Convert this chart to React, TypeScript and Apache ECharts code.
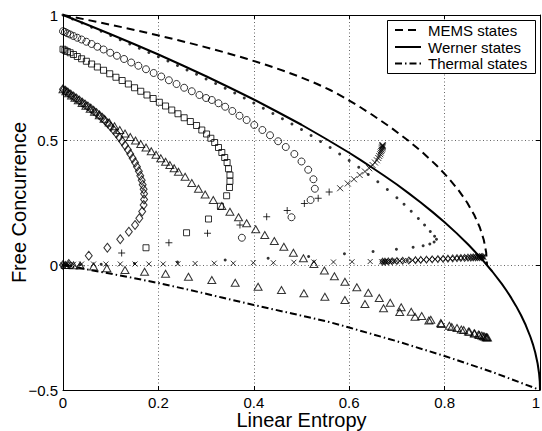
import React, { useEffect, useRef } from "react";
import * as echarts from "echarts";

const FONT = "'Liberation Sans', Arial, Helvetica, sans-serif";

const xTickValues = [0, 0.2, 0.4, 0.6, 0.8, 1];
const yTickValues = [-0.5, 0, 0.5, 1];
const yTickLabels = ["\u22120.5", "0", "0.5", "1"];

const legendNames = ["MEMS states", "Werner states", "Thermal states"];

const memsCurve: number[][] = [
  [0, 1], [0.0264, 0.99], [0.0523, 0.98], [0.0776, 0.97], [0.1267, 0.95], [0.1736, 0.93],
  [0.24, 0.9], [0.2917, 0.875], [0.34, 0.85], [0.385, 0.825], [0.4267, 0.8], [0.465, 0.775],
  [0.5, 0.75], [0.5317, 0.725], [0.56, 0.7], [0.5926, 0.6667], [0.6243, 0.63], [0.6489, 0.6],
  [0.6872, 0.55], [0.7222, 0.5], [0.7539, 0.45], [0.7822, 0.4], [0.8072, 0.35], [0.8289, 0.3],
  [0.8472, 0.25], [0.8622, 0.2], [0.8739, 0.15], [0.8822, 0.1], [0.8872, 0.05], [0.8889, 0],
];

const wernerCurve: number[][] = [
  [0, 1], [0.05, 0.962], [0.1, 0.923], [0.15, 0.883], [0.2, 0.842], [0.25, 0.799], [0.3, 0.755],
  [0.35, 0.709], [0.4, 0.662], [0.45, 0.612], [0.5, 0.561], [0.55, 0.506], [0.6, 0.449],
  [0.625, 0.4186], [0.65, 0.387], [0.675, 0.3551], [0.7, 0.322], [0.725, 0.2866], [0.75, 0.25],
  [0.775, 0.2115], [0.8, 0.171], [0.825, 0.1275], [0.85, 0.081], [0.875, 0.0303], [0.9, -0.026],
  [0.92, -0.0757], [0.93, -0.103], [0.94, -0.1326], [0.95, -0.1646], [0.96, -0.2], [0.97, -0.2402],
  [0.98, -0.288], [0.985, -0.3163], [0.99, -0.35], [0.995, -0.394], [0.998, -0.433], [0.9995, -0.466], [1, -0.5],
];

const thermalCurve: number[][] = [
  [0, 0], [0.078, -0.027], [0.134, -0.047], [0.2, -0.072], [0.266, -0.1], [0.333, -0.13], [0.4, -0.16],
  [0.48, -0.194], [0.56, -0.229], [0.6, -0.25], [0.7, -0.305], [0.8, -0.364], [0.9, -0.428], [1, -0.5],
];

const dotsData: number[][] = [
  [0, 1], [0.02, 0.984], [0.04, 0.968], [0.06, 0.951], [0.08, 0.935], [0.1, 0.918], [0.12, 0.901],
  [0.14, 0.884], [0.16, 0.867], [0.18, 0.85], [0.2, 0.833], [0.22, 0.816], [0.24, 0.798], [0.26, 0.78],
  [0.28, 0.763], [0.3, 0.744], [0.32, 0.726], [0.34, 0.707], [0.36, 0.688], [0.38, 0.668], [0.4, 0.648],
  [0.42, 0.627], [0.44, 0.606], [0.46, 0.585], [0.48, 0.564], [0.5, 0.542], [0.52, 0.518], [0.54, 0.494],
  [0.56, 0.47], [0.58, 0.444], [0.6, 0.418], [0.62, 0.391], [0.64, 0.362], [0.66, 0.333], [0.68, 0.302],
  [0.7, 0.269], [0.715, 0.243], [0.73, 0.215], [0.745, 0.186], [0.758, 0.16], [0.77, 0.134], [0.779, 0.115],
  [0.783, 0.103], [0.778, 0.092], [0.769, 0.084], [0.755, 0.077], [0.734, 0.071], [0.699, 0.063],
  [0.65, 0.054], [0.59, 0.045], [0.515, 0.034], [0.43, 0.027], [0.34, 0.02], [0.24, 0.012], [0.15, 0.006],
  [0.08, 0.003], [0.035, 0.001], [0.01, 0], [0, 0],
];

const circlesData: number[][] = [
  [0, 0.935], [0.004, 0.932], [0.009, 0.927], [0.015, 0.922], [0.022, 0.916], [0.03, 0.909], [0.039, 0.902],
  [0.049, 0.893], [0.06, 0.884], [0.072, 0.873], [0.085, 0.862], [0.099, 0.849], [0.113, 0.837], [0.128, 0.824],
  [0.143, 0.81], [0.158, 0.797], [0.174, 0.783], [0.19, 0.768], [0.206, 0.754], [0.222, 0.739], [0.238, 0.724],
  [0.254, 0.709], [0.27, 0.695], [0.286, 0.68], [0.3, 0.668], [0.312, 0.66], [0.326, 0.647], [0.34, 0.633],
  [0.355, 0.616], [0.37, 0.597], [0.385, 0.58], [0.401, 0.56], [0.418, 0.54], [0.434, 0.519], [0.451, 0.495],
  [0.467, 0.472], [0.485, 0.444], [0.5, 0.414], [0.514, 0.381], [0.525, 0.343], [0.528, 0.305], [0.519, 0.26],
  [0.479, 0.191], [0.375, 0.109],
];

const squaresData: number[][] = [
  [0, 0.863], [0.004, 0.859], [0.009, 0.854], [0.015, 0.849], [0.022, 0.842], [0.03, 0.834], [0.039, 0.825],
  [0.049, 0.815], [0.06, 0.804], [0.072, 0.792], [0.085, 0.779], [0.098, 0.765], [0.111, 0.751], [0.124, 0.738],
  [0.137, 0.724], [0.15, 0.709], [0.163, 0.695], [0.176, 0.68], [0.189, 0.666], [0.202, 0.651], [0.215, 0.636],
  [0.228, 0.62], [0.241, 0.605], [0.254, 0.589], [0.267, 0.574], [0.28, 0.558], [0.291, 0.54], [0.301, 0.524],
  [0.31, 0.507], [0.318, 0.49], [0.326, 0.47], [0.333, 0.45], [0.339, 0.43], [0.344, 0.41], [0.347, 0.385],
  [0.35, 0.36], [0.35, 0.335], [0.349, 0.31], [0.343, 0.277], [0.33, 0.235], [0.305, 0.184], [0.259, 0.129],
  [0.174, 0.069],
];

const diamondsData: number[][] = [
  [0, 0.703], [0.005, 0.697], [0.01, 0.69], [0.016, 0.682], [0.022, 0.674], [0.028, 0.666], [0.034, 0.658],
  [0.04, 0.65], [0.046, 0.642], [0.052, 0.634], [0.058, 0.626], [0.064, 0.617], [0.07, 0.608], [0.076, 0.599],
  [0.082, 0.589], [0.088, 0.578], [0.094, 0.566], [0.1, 0.553], [0.106, 0.54], [0.112, 0.526], [0.118, 0.511],
  [0.124, 0.495], [0.13, 0.478], [0.136, 0.461], [0.141, 0.444], [0.146, 0.427], [0.151, 0.41], [0.155, 0.393],
  [0.159, 0.375], [0.162, 0.357], [0.165, 0.339], [0.167, 0.321], [0.169, 0.303], [0.17, 0.285], [0.17, 0.262],
  [0.169, 0.24], [0.166, 0.214], [0.16, 0.187], [0.151, 0.16], [0.138, 0.133], [0.12, 0.103], [0.093, 0.069],
  [0.054, 0.037], [0.012, 0.004], [0, 0],
];

const trianglesUpperData: number[][] = [
  [0, 0.703], [0.006, 0.695], [0.012, 0.687], [0.018, 0.678], [0.025, 0.669], [0.032, 0.659], [0.04, 0.648],
  [0.048, 0.637], [0.057, 0.625], [0.066, 0.613], [0.076, 0.599], [0.086, 0.585], [0.097, 0.57], [0.108, 0.555],
  [0.119, 0.54], [0.13, 0.526], [0.141, 0.512], [0.152, 0.498], [0.163, 0.484], [0.174, 0.47], [0.185, 0.455],
  [0.195, 0.441], [0.205, 0.427], [0.215, 0.413], [0.224, 0.4], [0.233, 0.387], [0.242, 0.373], [0.256, 0.353],
  [0.27, 0.328], [0.284, 0.305], [0.298, 0.282], [0.315, 0.26], [0.333, 0.236], [0.35, 0.213], [0.368, 0.191],
  [0.385, 0.167], [0.404, 0.143], [0.423, 0.12], [0.443, 0.096], [0.463, 0.073], [0.483, 0.049], [0.504, 0.027],
  [0.526, 0.004], [0.548, -0.022], [0.569, -0.045], [0.591, -0.067], [0.616, -0.089], [0.64, -0.111],
  [0.663, -0.132], [0.686, -0.151], [0.709, -0.169], [0.73, -0.187], [0.752, -0.204], [0.771, -0.219],
  [0.792, -0.232], [0.81, -0.243], [0.826, -0.252], [0.84, -0.26], [0.852, -0.267], [0.862, -0.273],
  [0.871, -0.278], [0.878, -0.282], [0.884, -0.286], [0.888, -0.289], [0.89, -0.29],
];

const trianglesLowerData: number[][] = [
  [0.005, 0], [0.012, 0], [0.022, -0.001], [0.036, -0.002], [0.064, -0.006], [0.092, -0.013], [0.13, -0.02],
  [0.171, -0.027], [0.215, -0.035], [0.263, -0.047], [0.312, -0.06], [0.361, -0.071], [0.409, -0.087],
  [0.458, -0.1], [0.505, -0.113], [0.549, -0.127], [0.591, -0.14], [0.633, -0.156], [0.672, -0.173],
  [0.706, -0.188], [0.738, -0.207], [0.767, -0.222], [0.793, -0.236], [0.815, -0.248], [0.835, -0.258],
  [0.85, -0.266], [0.863, -0.274], [0.873, -0.28], [0.881, -0.285], [0.887, -0.289],
];

const plusData: number[][] = [
  [0, 0], [0.123, 0.048], [0.222, 0.089], [0.303, 0.127], [0.371, 0.16], [0.427, 0.193], [0.47, 0.218],
  [0.506, 0.246], [0.535, 0.267], [0.558, 0.292],
];

const crossRiseData: number[][] = [
  [0.581, 0.307], [0.597, 0.326], [0.61, 0.343], [0.622, 0.36], [0.633, 0.374], [0.642, 0.387], [0.649, 0.4],
  [0.654, 0.41], [0.658, 0.419], [0.661, 0.428], [0.663, 0.436], [0.665, 0.443], [0.666, 0.45], [0.667, 0.456],
  [0.668, 0.461], [0.669, 0.466], [0.669, 0.47], [0.67, 0.473], [0.67, 0.476], [0.67, 0.478], [0.67, 0.48],
];

const crossFlatData: number[][] = [
  [0, 0], [0.005, 0.001], [0.012, 0.002], [0.022, 0.003], [0.039, 0.004], [0.064, 0.004], [0.09, 0.004],
  [0.12, 0.004], [0.151, 0.004], [0.18, 0.004], [0.21, 0.004], [0.241, 0.005], [0.277, 0.006], [0.317, 0.007],
  [0.357, 0.007], [0.399, 0.009], [0.441, 0.009], [0.484, 0.011], [0.526, 0.012], [0.567, 0.012],
  [0.606, 0.013], [0.644, 0.014],
];

const crossBandData: number[][] = [
  [0.668, 0.013], [0.671, 0.0133], [0.674, 0.0135], [0.677, 0.0138], [0.68, 0.0141], [0.684, 0.0144],
  [0.688, 0.0148], [0.693, 0.0153], [0.699, 0.0158], [0.706, 0.0164], [0.714, 0.0171], [0.723, 0.018],
  [0.733, 0.0189], [0.744, 0.0198], [0.756, 0.0209], [0.768, 0.022], [0.78, 0.0231], [0.791, 0.0241],
  [0.802, 0.0251], [0.812, 0.026], [0.821, 0.0268], [0.83, 0.0276], [0.838, 0.0283], [0.845, 0.0289],
  [0.851, 0.0295], [0.857, 0.03], [0.862, 0.0305], [0.866, 0.0308], [0.87, 0.0312], [0.873, 0.0315],
  [0.876, 0.0317], [0.878, 0.0319], [0.88, 0.0321], [0.881, 0.0322], [0.882, 0.0323],
];

const diamondBandData: number[][] = [
  [0.67, 0.0132], [0.675, 0.0136], [0.682, 0.0142], [0.69, 0.015], [0.7, 0.0159], [0.712, 0.017],
  [0.725, 0.0181], [0.739, 0.0194], [0.75, 0.0204], [0.762, 0.0215], [0.774, 0.0226], [0.786, 0.0236],
  [0.797, 0.0246], [0.807, 0.0255], [0.817, 0.0264], [0.826, 0.0272], [0.834, 0.028], [0.842, 0.0286],
  [0.849, 0.0293], [0.855, 0.0298], [0.86, 0.0303], [0.865, 0.0307], [0.869, 0.0311], [0.873, 0.0315],
  [0.877, 0.0318], [0.88, 0.0321],
];

const PLUS = "path://M5,0L5,10M0,5L10,5";
const CROSS = "path://M0,0L10,10M10,0L0,10";

export default function App() {
  const ref = useRef<HTMLDivElement>(null);

  useEffect(() => {
    if (!ref.current) return;
    const chart = echarts.init(ref.current, undefined, { renderer: "svg" });
    const hollow = { color: "rgba(255,255,255,0)", borderColor: "#000", borderWidth: 1 };
    const scatter = (name: string, data: number[][], symbol: string, size: any, z = 3) => ({
      type: "scatter",
      name,
      data,
      symbol,
      symbolSize: size,
      itemStyle: hollow,
      silent: true,
      clip: false,
      z,
    });
    const lineSeries = (name: string, data: number[][], dash: any) => ({
      type: "line",
      name,
      data,
      showSymbol: false,
      symbol: "none",
      silent: true,
      clip: false,
      z: 5,
      lineStyle: { color: "#000", width: 2, type: dash },
    });
    const baseAxisLine = { show: true, onZero: false, lineStyle: { color: "#000", width: 1 } };
    const tick = { show: true, inside: true, length: 4, lineStyle: { color: "#000", width: 1 } };
    const split = { show: true, lineStyle: { color: "#666", width: 1, type: [1, 2.5] } };

    const legendY = [30, 47, 63.5];
    const legendDash: any[] = [[8, 5], null, [7, 3, 1.5, 3]];

    chart.setOption({
      animation: false,
      backgroundColor: "#fff",
      textStyle: { fontFamily: FONT },
      grid: { left: 63, right: 2, top: 15, bottom: 41, outerBoundsMode: "none" } as any,
      xAxis: [
        {
          type: "value", min: 0, max: 1, interval: 0.2, position: "bottom",
          name: "Linear Entropy", nameLocation: "middle", nameGap: 20, nameMoveOverlap: false,
          nameTextStyle: { fontSize: 20, lineHeight: 20, color: "#000", fontFamily: FONT },
          axisLine: baseAxisLine, axisTick: tick, splitLine: split,
          axisLabel: {
            show: true, color: "#000", fontSize: 15, lineHeight: 14, fontFamily: FONT, margin: 5,
            showMinLabel: true, showMaxLabel: true, alignMaxLabel: "right",
            formatter: (v: number) => {
              const i = xTickValues.findIndex((t) => Math.abs(t - v) < 1e-6);
              return i >= 0 ? String(xTickValues[i]) : "";
            },
          },
        },
        {
          type: "value", min: 0, max: 1, interval: 0.2, position: "top",
          axisLine: baseAxisLine, axisTick: tick, splitLine: { show: false }, axisLabel: { show: false },
        },
      ],
      yAxis: [
        {
          type: "value", min: -0.5, max: 1, interval: 0.5, position: "left",
          name: "Free Concurrence", nameLocation: "middle", nameGap: 34, nameRotate: 90, nameMoveOverlap: false,
          nameTextStyle: { fontSize: 20, color: "#000", fontFamily: FONT },
          axisLine: baseAxisLine, axisTick: tick, splitLine: split,
          axisLabel: {
            show: true, color: "#000", fontSize: 15, fontFamily: FONT, margin: 5,
            showMinLabel: true, showMaxLabel: true,
            formatter: (v: number) => {
              const i = yTickValues.findIndex((t) => Math.abs(t - v) < 1e-6);
              return i >= 0 ? yTickLabels[i] : "";
            },
          },
        },
        {
          type: "value", min: -0.5, max: 1, interval: 0.5, position: "right",
          axisLine: baseAxisLine, axisTick: tick, splitLine: { show: false }, axisLabel: { show: false },
        },
      ],
      series: [
        { ...scatter("dots", dotsData, "circle", 3), itemStyle: { color: "#000" } },
        scatter("circles", circlesData, "circle", 7),
        scatter("squares", squaresData, "rect", 6),
        scatter("diamonds", diamondsData, "diamond", [7, 9]),
        scatter("trianglesUpper", trianglesUpperData, "triangle", [8, 7]),
        scatter("trianglesLower", trianglesLowerData, "triangle", [8, 7]),
        scatter("plus", plusData, PLUS, 7),
        scatter("crossRise", crossRiseData, CROSS, 6),
        scatter("crossFlat", crossFlatData, CROSS, 5),
        scatter("crossBand", crossBandData, CROSS, 5),
        scatter("diamondBand", diamondBandData, "diamond", [5, 7]),
        lineSeries(legendNames[0], memsCurve, [8, 5]),
        lineSeries(legendNames[1], wernerCurve, "solid"),
        lineSeries(legendNames[2], thermalCurve, [7, 3, 1.5, 3]),
      ],
      graphic: [
        {
          type: "rect", left: 387, top: 20, z: 100,
          shape: { x: 0, y: 0, width: 148, height: 53 },
          style: { fill: "#fff", stroke: "#000", lineWidth: 1 },
        },
        ...legendNames.flatMap((name, i) => [
          {
            type: "line", z: 101,
            shape: { x1: 395, y1: legendY[i], x2: 421, y2: legendY[i] },
            style: { stroke: "#000", lineWidth: 2, lineDash: legendDash[i] || undefined },
          },
          {
            type: "text", z: 101, x: 428, y: legendY[i],
            style: { text: name, fill: "#000", fontSize: 15, fontFamily: FONT, verticalAlign: "middle", align: "left" },
          },
        ]),
      ],
    } as any);
    return () => chart.dispose();
  }, []);

  return (
    <div
      ref={ref}
      style={{ position: "fixed", left: 0, top: 0, width: 542, height: 431, background: "#fff" }}
    />
  );
}
